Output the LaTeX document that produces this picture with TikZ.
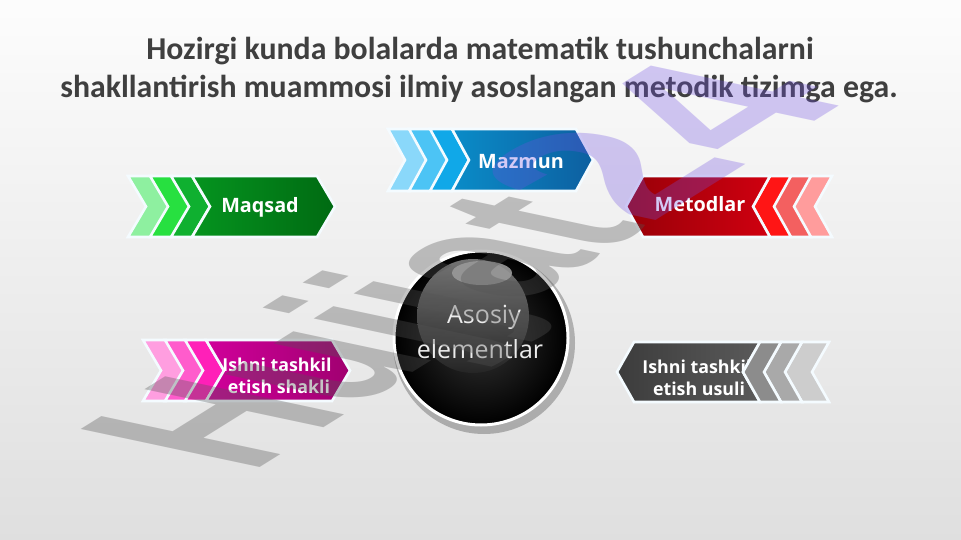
\documentclass[tikz,border=0pt]{standalone}
\usepackage{fontspec}
\setmainfont{Open Sans}
\newfontfamily\titlefont{Carlito}
\newfontfamily\wmfont{Liberation Sans}
\usetikzlibrary{shadows}
\definecolor{titlegray}{HTML}{3F3F3F}
\definecolor{gA}{HTML}{8EF0A0}\definecolor{gB}{HTML}{27E040}\definecolor{gC}{HTML}{0FB030}
\definecolor{gL}{HTML}{05941F}\definecolor{gR}{HTML}{006A12}
\definecolor{bA}{HTML}{8AD8FA}\definecolor{bB}{HTML}{4CC4F5}\definecolor{bC}{HTML}{10A8E8}
\definecolor{bL}{HTML}{0A8CC8}\definecolor{bR}{HTML}{0D5FA0}
\definecolor{rA}{HTML}{FF9C9C}\definecolor{rB}{HTML}{F36060}\definecolor{rC}{HTML}{FF1515}
\definecolor{rL}{HTML}{D00010}\definecolor{rR}{HTML}{980008}
\definecolor{mA}{HTML}{FF9EE0}\definecolor{mB}{HTML}{FF5CCC}\definecolor{mC}{HTML}{FF20B8}
\definecolor{mL}{HTML}{D0009A}\definecolor{mR}{HTML}{A00070}
\definecolor{kA}{HTML}{CDCDCD}\definecolor{kB}{HTML}{A9A9A9}\definecolor{kC}{HTML}{8C8C8C}
\definecolor{kL}{HTML}{5A5A5A}\definecolor{kR}{HTML}{3C3C3C}
\definecolor{rimcol}{HTML}{F4FBFF}
\definecolor{wmgray}{HTML}{555555}
\definecolor{wmpurple}{HTML}{7050E0}
% right-pointing chevron: xl xr ytop ybot depth style
\newcommand\chevR[6]{\path[#6] (#1,#3) -- (#2,#3) -- ({#2+#5},{(#3+#4)/2}) -- (#2,#4) -- (#1,#4) -- ({#1+#5},{(#3+#4)/2}) -- cycle;}
% left-pointing chevron: xl(head corner) xr(notch corner) ytop ybot depth style
\newcommand\chevL[6]{\path[#6] (#2,#3) -- (#1,#3) -- ({#1-#5},{(#3+#4)/2}) -- (#1,#4) -- (#2,#4) -- ({#2-#5},{(#3+#4)/2}) -- cycle;}
\tikzset{
  chev/.style={draw=rimcol, line width=2.6pt, line join=miter},
  mainR/.style={chev, left color=#1L, right color=#1R},
  mainL/.style={chev, right color=#1L, left color=#1R},
  lbl/.style={text=white, font=\bfseries\fontsize{19.8}{22}\selectfont, inner sep=0pt, anchor=base},
  lbltwo/.style={text=white, font=\bfseries\fontsize{17.8}{20}\selectfont, inner sep=0pt, anchor=base},
  titlestyle/.style={text=titlegray, font=\titlefont\bfseries\fontsize{31.8}{34}\selectfont, inner sep=0pt, anchor=base},
  orbtext/.style={text=white!85!gray, font=\fontsize{25}{28}\selectfont, inner sep=0pt, anchor=base},
  wmtext/.style={anchor=base west, inner sep=0pt, transform shape, opacity=0.34,
    font=\wmfont\bfseries\fontsize{266}{266}\selectfont},
}
\begin{document}
\begin{tikzpicture}[x=1pt,y=-1pt]
% background
\path[top color=white!98!gray, bottom color=white!75!gray] (0,0) rectangle (961,540);
\useasboundingbox (0,0) rectangle (961,540);
% title
\node[titlestyle] (t1) at (480,60) {Hozirgi kunda bolalarda matematik tushunchalarni};
\node[titlestyle] (t2) at (479,98) {shakllantirish muammosi ilmiy asoslangan metodik tizimga ega.};
% green (Maqsad)
\chevR{128}{152}{176}{237}{18}{chev, fill=gA}
\chevR{150}{172}{176}{237}{18}{chev, fill=gB}
\chevR{171}{192}{176}{237}{18}{chev, fill=gC}
\chevR{192}{317}{176}{237}{18}{mainR=g}
\node[lbl] (maqsad) at (260,213) {Maqsad};
% blue (Mazmun)
\chevR{388}{410}{129}{191}{17}{chev, fill=bA}
\chevR{409}{431}{129}{191}{17}{chev, fill=bB}
\chevR{430}{452}{129}{191}{17}{chev, fill=bC}
\chevR{452}{576}{129}{191}{17}{mainR=b}
\node[lbl] (mazmun) at (521,169) {Mazmun};
% red (Metodlar)
\chevL{810}{832}{176}{237}{17}{chev, fill=rA}
\chevL{790}{811}{176}{237}{17}{chev, fill=rB}
\chevL{770}{791}{176}{237}{17}{chev, fill=rC}
\chevL{643}{770}{176}{237}{17}{mainL=r}
\node[lbl] (metodlar) at (700,212) {Metodlar};
% magenta (shakli)
\chevR{143}{166}{340}{401}{18}{chev, fill=mA}
\chevR{165}{186}{340}{401}{18}{chev, fill=mB}
\chevR{185}{206}{340}{401}{18}{chev, fill=mC}
\chevR{206}{332}{340}{401}{18}{mainR=m}
\node[lbltwo] (shakli1) at (277,371) {Ishni tashkil};
\node[lbltwo] (shakli2) at (279,393) {etish shakli};
% gray (usuli)
\chevL{634}{760}{342}{402}{17}{mainL=k}
\node[lbltwo] (usuli1) at (697,373) {Ishni tashkil};
\node[lbltwo] (usuli2) at (699,395) {etish usuli};
\chevL{802}{829}{342}{402}{17}{chev, fill=kA}
\chevL{781}{802}{342}{402}{17}{chev, fill=kB}
\chevL{760}{781}{342}{402}{17}{chev, fill=kC}
% central orb
\path[fill=black, opacity=0.25] (484,343) circle[radius=91];
\path[draw=white, line width=3pt, inner color=black!80, outer color=black] (481,338) circle[radius=87];
\path[top color=black!50, bottom color=black!85, opacity=0.9] (473,316) ellipse[x radius=56, y radius=57];
\path[fill=black!40, opacity=0.9] (482,273) ellipse[x radius=30, y radius=12];
\node[orbtext] (asosiy) at (484,323) {Asosiy};
\node[orbtext] (elementlar) at (480,358) {elementlar};
% watermark
\begin{scope}[shift={(250,474)}, cm={0.54,0.337,-0.978,0.208,(0,0)}]
\node[wmtext, text=wmgray] (wm) at (0,0) {Hujjat};
\node[wmtext, text=wmpurple, xscale=1.3, yscale=1.05, opacity=0.3] (wm24) at (wm.base east) {24};
\end{scope}
\end{tikzpicture}
\end{document}
